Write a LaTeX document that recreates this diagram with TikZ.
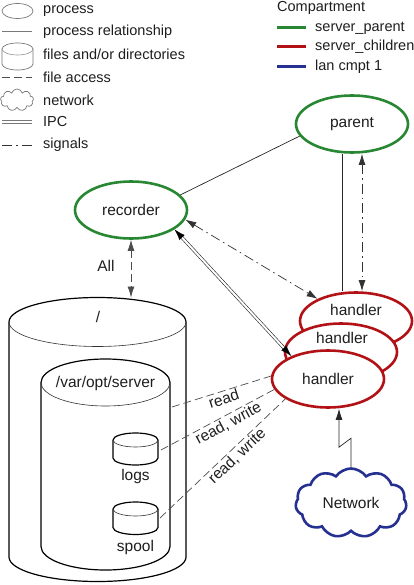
\documentclass[tikz,border=0pt]{standalone}
\usepackage{fontspec}
\setmainfont{Liberation Sans}
\usetikzlibrary{shapes.geometric,shapes.symbols,arrows.meta,calc}
\definecolor{cgreen}{RGB}{40,135,50}
\definecolor{cred}{RGB}{178,18,22}
\definecolor{cblue}{RGB}{38,48,145}
\definecolor{lgray}{RGB}{120,120,120}
\definecolor{tcol}{RGB}{30,30,30}
\newcommand\myNodeFont{\fontsize{15.5}{18}\selectfont}
\newcommand\myLegFont{\fontsize{14.5}{17}\selectfont}
% cx, topy, boty, rx, ry, line width, colour
\newcommand\mycyl[7]{%
  \fill[white] (#1-#4,#2) -- (#1-#4,#3) arc[start angle=180,end angle=0,x radius=#4,y radius=#5] -- (#1+#4,#2) arc[start angle=0,end angle=-180,x radius=#4,y radius=#5] -- cycle;
  \draw[#7,line width=#6] (#1-#4,#2) -- (#1-#4,#3) arc[start angle=180,end angle=0,x radius=#4,y radius=#5] -- (#1+#4,#2) arc[start angle=0,end angle=-180,x radius=#4,y radius=#5];
  \draw[#7!80,line width=0.6pt] (#1-#4,#2) arc[start angle=180,end angle=0,x radius=#4,y radius=#5];
}
\tikzset{
  proc/.style={ellipse, draw, line width=2.6pt, fill=white, minimum width=112pt, minimum height=57pt, inner sep=0pt, font=\myNodeFont, text=tcol},
  txt/.style={inner sep=1pt, font=\myNodeFont, text=tcol},
  leg/.style={anchor=west, inner sep=0pt, font=\myLegFont, text=tcol},
  rel/.style={draw=black!85, line width=0.7pt},
  fa/.style={draw=black!70, line width=0.7pt, dash pattern=on 8pt off 4pt},
  sig/.style={draw=black!80, line width=0.7pt, dash pattern=on 10pt off 4pt on 1.5pt off 4pt},
  ipc/.style={draw=black!85, line width=0.6pt, double=white, double distance=2pt},
  lbl/.style={sloped, below, inner sep=1.5pt, font=\myNodeFont, text=tcol},
}
\begin{document}
\begin{tikzpicture}[x=1pt,y=-1pt,>={Latex[length=11pt,width=7pt]}]
\useasboundingbox (0,0) rectangle (413,585);

% ---------- legend (left)
\node[ellipse, draw=lgray, line width=0.7pt, minimum width=31pt, minimum height=15pt, inner sep=0pt] (lgproc) at (17.5,11) {};
\node[leg] (lgproct) at (43,11) {process};
\draw[lgray, line width=1pt] (2,32) -- (32,32);
\node[leg] (lgrelt) at (43,32) {process relationship};
\mycyl{17.5}{49}{64}{15.5}{6}{0.7pt}{lgray}
\node[leg] (lgfilet) at (43,54) {files and/or directories};
\draw[fa] (2,77) -- (32,77);
\node[leg] (lgfat) at (43,77) {file access};
\node[cloud, draw=lgray, line width=0.7pt, cloud puffs=9, aspect=1.5, minimum width=33pt, minimum height=22pt, inner sep=0pt] (lgnet) at (17,100) {};
\node[leg] (lgnett) at (43,100) {network};
\draw[ipc, draw=lgray] (2,122) -- (32,122);
\node[leg] (lgipct) at (43,122) {IPC};
\draw[sig] (2,145) -- (32,145);
\node[leg] (lgsigt) at (43,145) {signals};

% ---------- legend (right)
\node[leg] (cmpt) at (277,8) {Compartment};
\draw[cgreen, line width=3pt] (277,28) -- (306,28);
\node[leg] (cmp1) at (315,28) {server\_parent};
\draw[cred, line width=3pt] (277,47) -- (306,47);
\node[leg] (cmp2) at (315,47) {server\_children};
\draw[cblue, line width=3pt] (277,67) -- (306,67);
\node[leg] (cmp3) at (315,67) {lan cmpt 1};

% ---------- file system
\mycyl{97.5}{322}{557}{88.5}{24.5}{1.2pt}{black}
\node[txt] (root) at (98,317) {/};
\mycyl{105.5}{382.5}{546.5}{64.5}{23.5}{1.2pt}{black}
\node[txt] (var) at (105.5,383) {/var/opt/server};
\mycyl{135.5}{440}{458}{22.5}{7}{1.2pt}{black}
\node[txt] (logs) at (135.5,476) {logs};
\mycyl{135.5}{509}{527.5}{22.5}{7}{1.2pt}{black}
\node[txt] (spool) at (135.5,547) {spool};
\coordinate (roottop) at (131,297.5);
\coordinate (varR) at (172,407);
\coordinate (logsR) at (161,450);
\coordinate (spoolR) at (160,518);

% ---------- processes
\node[proc, draw=cgreen] (par) at (352,124) {parent};
\node[proc, draw=cgreen] (rec) at (131,210) {recorder};
\node[proc, draw=cred] (h1) at (356,321) {};
\node[txt] (h1t) at (356,310) {handler};
\node[proc, draw=cred] (h2) at (341,352) {};
\node[txt] (h2t) at (342,338) {handler};
\node[proc, draw=cred] (h3) at (328,379) {handler};
\node[cloud, draw=cblue, line width=2.6pt, fill=white, cloud puffs=11, cloud puff arc=110, aspect=1.6, minimum width=111pt, minimum height=69pt, inner sep=0pt, font=\myNodeFont, text=tcol] (net) at (351,503) {Network};

% ---------- connectors
\coordinate (xl) at (342,0);
\coordinate (xr) at (362,0);
\draw[rel] (par.193) -- (rec.17);
\draw[rel] (par.south -| xl) -- (h1.north -| xl);
\draw[sig, <->] (par.south -| xr) -- (h1.north -| xr);
\draw[sig, <->] (rec.-10) -- (h1.150);
\draw[fa, <->] (rec.south -| roottop) -- (roottop);
\node[txt] (allt) at (106,266) {All};
% IPC
\coordinate (ia) at (rec.-24);
\coordinate (ib) at (h3.148);
\draw[ipc, shorten <=9pt, shorten >=9pt] (ia) -- (ib);
\draw[->] ($(ia)!11pt!(ib)$) -- (ia);
\draw[->] ($(ib)!11pt!(ia)$) -- (ib);
% file access
\draw[fa] (varR) -- node[lbl, pos=0.5] {read} (h3.177);
\draw[fa] (logsR) -- node[lbl, pos=0.56] {read, write} (h3.191);
\draw[fa] (spoolR) -- node[lbl, pos=0.57] {read, write} (h3.205);
% network
\draw[rel, ->] (net.north) -- ++(0,-29) coordinate (z1) -- ++(-12,9) coordinate (z2) -- (h3.south -| z2);
\end{tikzpicture}
\end{document}
